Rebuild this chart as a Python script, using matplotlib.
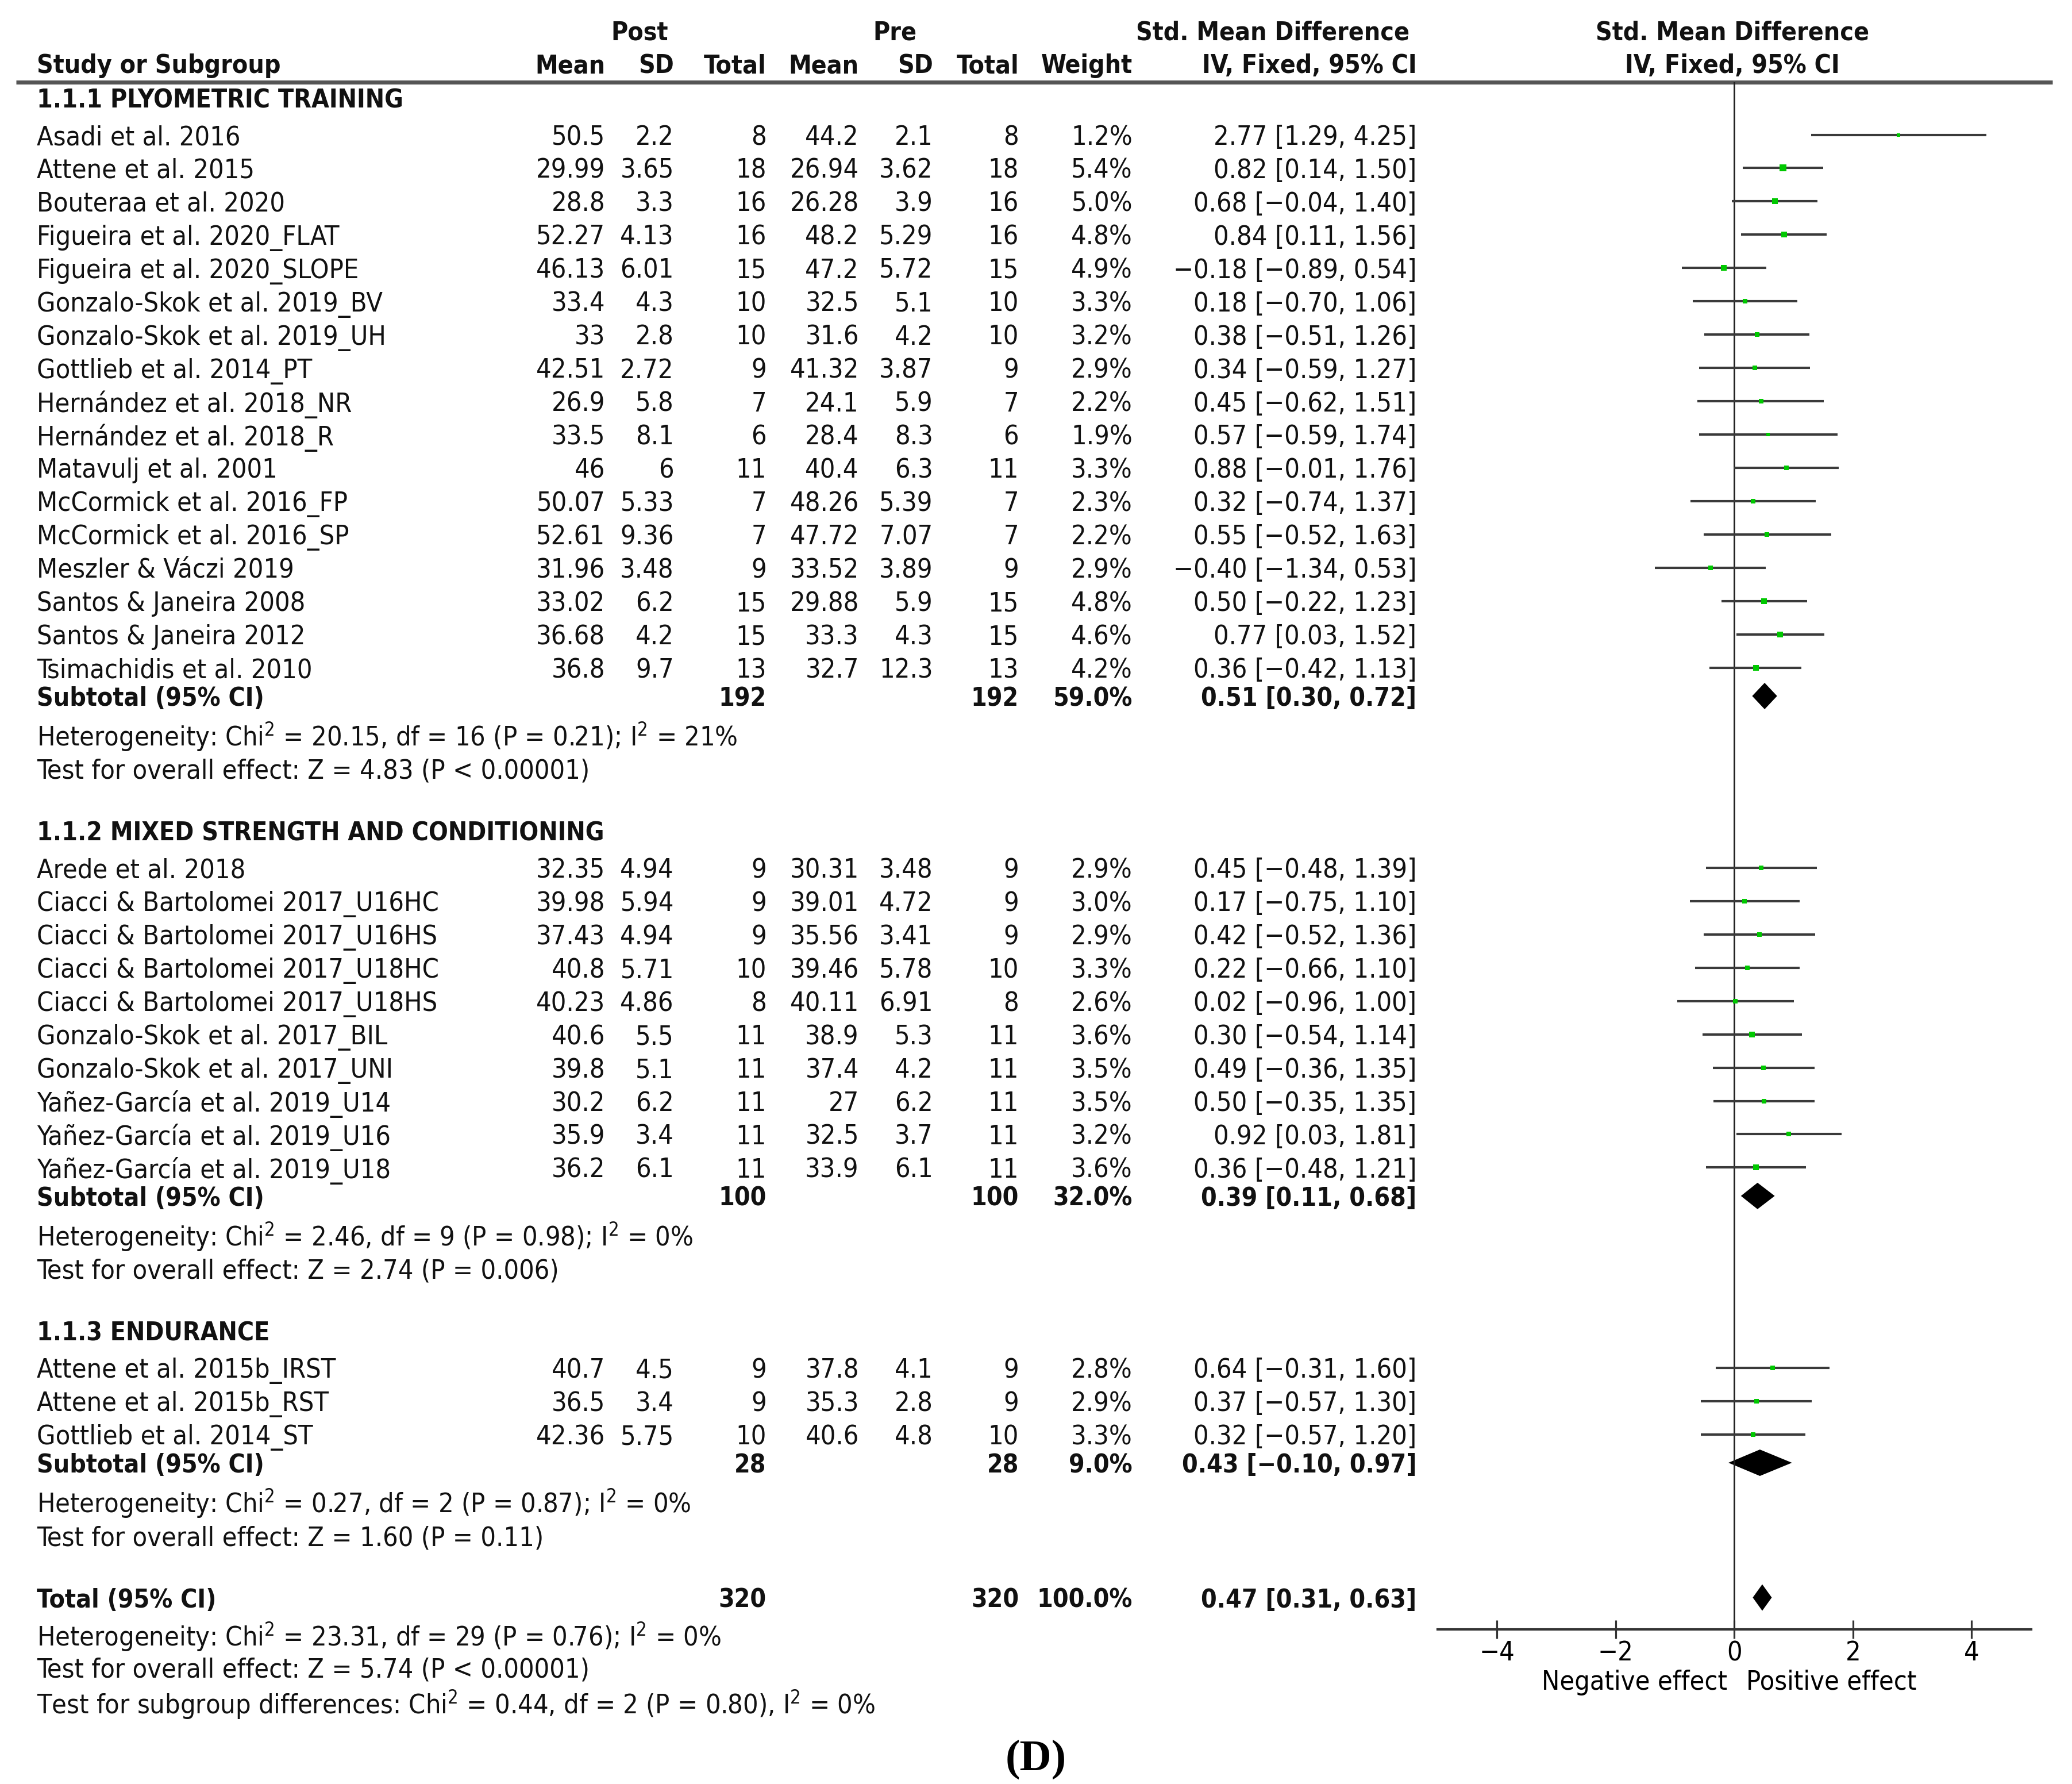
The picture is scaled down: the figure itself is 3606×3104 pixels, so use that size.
import matplotlib
matplotlib.use("Agg")
import matplotlib.pyplot as plt
import numpy as np

plt.rcParams["font.family"] = ["DejaVu Sans"]
plt.rcParams["font.stretch"] = "condensed"

# ---- data ----
groups = ["1.1.1 PLYOMETRIC TRAINING", "1.1.2 MIXED STRENGTH AND CONDITIONING", "1.1.3 ENDURANCE"]

study_names = [
    ["Asadi et al. 2016", "Attene et al. 2015", "Bouteraa et al. 2020", "Figueira et al. 2020_FLAT",
     "Figueira et al. 2020_SLOPE", "Gonzalo-Skok et al. 2019_BV", "Gonzalo-Skok et al. 2019_UH",
     "Gottlieb et al. 2014_PT", "Hernández et al. 2018_NR", "Hernández et al. 2018_R",
     "Matavulj et al. 2001", "McCormick et al. 2016_FP", "McCormick et al. 2016_SP",
     "Meszler & Váczi 2019", "Santos & Janeira 2008", "Santos & Janeira 2012", "Tsimachidis et al. 2010"],
    ["Arede et al. 2018", "Ciacci & Bartolomei 2017_U16HC", "Ciacci & Bartolomei 2017_U16HS",
     "Ciacci & Bartolomei 2017_U18HC", "Ciacci & Bartolomei 2017_U18HS", "Gonzalo-Skok et al. 2017_BIL",
     "Gonzalo-Skok et al. 2017_UNI", "Yañez-García et al. 2019_U14", "Yañez-García et al. 2019_U16",
     "Yañez-García et al. 2019_U18"],
    ["Attene et al. 2015b_IRST", "Attene et al. 2015b_RST", "Gottlieb et al. 2014_ST"],
]
post_mean = [
    ["50.5", "29.99", "28.8", "52.27", "46.13", "33.4", "33", "42.51", "26.9", "33.5", "46", "50.07", "52.61",
     "31.96", "33.02", "36.68", "36.8"],
    ["32.35", "39.98", "37.43", "40.8", "40.23", "40.6", "39.8", "30.2", "35.9", "36.2"],
    ["40.7", "36.5", "42.36"],
]
post_sd = [
    ["2.2", "3.65", "3.3", "4.13", "6.01", "4.3", "2.8", "2.72", "5.8", "8.1", "6", "5.33", "9.36",
     "3.48", "6.2", "4.2", "9.7"],
    ["4.94", "5.94", "4.94", "5.71", "4.86", "5.5", "5.1", "6.2", "3.4", "6.1"],
    ["4.5", "3.4", "5.75"],
]
post_n = [
    [8, 18, 16, 16, 15, 10, 10, 9, 7, 6, 11, 7, 7, 9, 15, 15, 13],
    [9, 9, 9, 10, 8, 11, 11, 11, 11, 11],
    [9, 9, 10],
]
pre_mean = [
    ["44.2", "26.94", "26.28", "48.2", "47.2", "32.5", "31.6", "41.32", "24.1", "28.4", "40.4", "48.26", "47.72",
     "33.52", "29.88", "33.3", "32.7"],
    ["30.31", "39.01", "35.56", "39.46", "40.11", "38.9", "37.4", "27", "32.5", "33.9"],
    ["37.8", "35.3", "40.6"],
]
pre_sd = [
    ["2.1", "3.62", "3.9", "5.29", "5.72", "5.1", "4.2", "3.87", "5.9", "8.3", "6.3", "5.39", "7.07",
     "3.89", "5.9", "4.3", "12.3"],
    ["3.48", "4.72", "3.41", "5.78", "6.91", "5.3", "4.2", "6.2", "3.7", "6.1"],
    ["4.1", "2.8", "4.8"],
]
pre_n = post_n
weight = [
    [1.2, 5.4, 5.0, 4.8, 4.9, 3.3, 3.2, 2.9, 2.2, 1.9, 3.3, 2.3, 2.2, 2.9, 4.8, 4.6, 4.2],
    [2.9, 3.0, 2.9, 3.3, 2.6, 3.6, 3.5, 3.5, 3.2, 3.6],
    [2.8, 2.9, 3.3],
]
smd = [
    [2.77, 0.82, 0.68, 0.84, -0.18, 0.18, 0.38, 0.34, 0.45, 0.57, 0.88, 0.32, 0.55, -0.40, 0.50, 0.77, 0.36],
    [0.45, 0.17, 0.42, 0.22, 0.02, 0.30, 0.49, 0.50, 0.92, 0.36],
    [0.64, 0.37, 0.32],
]
ci_low = [
    [1.29, 0.14, -0.04, 0.11, -0.89, -0.70, -0.51, -0.59, -0.62, -0.59, -0.01, -0.74, -0.52, -1.34, -0.22, 0.03, -0.42],
    [-0.48, -0.75, -0.52, -0.66, -0.96, -0.54, -0.36, -0.35, 0.03, -0.48],
    [-0.31, -0.57, -0.57],
]
ci_high = [
    [4.25, 1.50, 1.40, 1.56, 0.54, 1.06, 1.26, 1.27, 1.51, 1.74, 1.76, 1.37, 1.63, 0.53, 1.23, 1.52, 1.13],
    [1.39, 1.10, 1.36, 1.10, 1.00, 1.14, 1.35, 1.35, 1.81, 1.21],
    [1.60, 1.30, 1.20],
]

sub_n = [192, 100, 28]
sub_weight = ["59.0%", "32.0%", "9.0%"]
sub_smd = [0.51, 0.39, 0.43]
sub_low = [0.30, 0.11, -0.10]
sub_high = [0.72, 0.68, 0.97]
sub_het = [
    "Heterogeneity: Chi$^2$ = 20.15, df = 16 (P = 0.21); I$^2$ = 21%",
    "Heterogeneity: Chi$^2$ = 2.46, df = 9 (P = 0.98); I$^2$ = 0%",
    "Heterogeneity: Chi$^2$ = 0.27, df = 2 (P = 0.87); I$^2$ = 0%",
]
sub_test = [
    "Test for overall effect: Z = 4.83 (P < 0.00001)",
    "Test for overall effect: Z = 2.74 (P = 0.006)",
    "Test for overall effect: Z = 1.60 (P = 0.11)",
]

total_n = 320
total_weight = "100.0%"
total_smd, total_low, total_high = 0.47, 0.31, 0.63
total_notes = [
    "Heterogeneity: Chi$^2$ = 23.31, df = 29 (P = 0.76); I$^2$ = 0%",
    "Test for overall effect: Z = 5.74 (P < 0.00001)",
    "Test for subgroup differences: Chi$^2$ = 0.44, df = 2 (P = 0.80), I$^2$ = 0%",
]
xticks = [-4, -2, 0, 2, 4]


def fmt(v):
    return f"{v:.2f}".replace("-", "\u2212")


def ci_text(e, lo, hi):
    return f"{fmt(e)} [{fmt(lo)}, {fmt(hi)}]"


# ---- figure (coordinates in 1568x1350 reference units) ----
W, H = 1568, 1350
fig = plt.figure(figsize=(3606 / 230, 3104 / 230), dpi=230)
ax = fig.add_axes([0, 0, 1, 1])
ax.set_xlim(0, W)
ax.set_ylim(H, 0)
ax.axis("off")

FS = 14.6
FSB = 13.9
col_x = {"pm": 458, "psd": 510, "pn": 580, "qm": 650, "qsd": 706, "qn": 771, "w": 857, "ci": 1072}
LEFT = 28


def t(x, y, s, ha="left", bold=False, **kw):
    ax.text(x, y, s, ha=ha, va="center_baseline", fontsize=FSB if bold else FS,
            fontweight="bold" if bold else "normal", color="#111111", **kw)


# headers
t(484, 23, "Post", ha="center", bold=True)
t(677, 23, "Pre", ha="center", bold=True)
t(963, 23, "Std. Mean Difference", ha="center", bold=True)
t(1311, 23, "Std. Mean Difference", ha="center", bold=True)
t(LEFT, 48, "Study or Subgroup", bold=True)
for key, lab in [("pm", "Mean"), ("psd", "SD"), ("pn", "Total"), ("qm", "Mean"),
                 ("qsd", "SD"), ("qn", "Total"), ("w", "Weight"), ("ci", "IV, Fixed, 95% CI")]:
    t(col_x[key], 48, lab, ha="right", bold=True)
t(1311, 48, "IV, Fixed, 95% CI", ha="center", bold=True)
ax.plot([12, 1553], [62, 62], color="#555555", lw=2.2, solid_capstyle="butt")

# forest axes
AX_L, AX_R, AX_TOP, AX_BOT = 1088, 1537, 62, 1233
fax = fig.add_axes([AX_L / W, (H - AX_BOT) / H, (AX_R - AX_L) / W, (AX_BOT - AX_TOP) / H])
fax.set_xlim(-5, 5)
fax.set_ylim(AX_BOT, AX_TOP)
fax.patch.set_alpha(0)
for s in ["top", "left", "right"]:
    fax.spines[s].set_visible(False)
fax.spines["bottom"].set_color("#333333")
fax.spines["bottom"].set_linewidth(1.3)
fax.set_yticks([])
fax.set_xticks(xticks)
fax.tick_params(axis="x", direction="inout", length=10, width=1, color="#333333",
                labelsize=FS, pad=1)
fax.axvline(0, color="#222222", lw=0.9)
fax.text(-0.12, 1271, "Negative effect", ha="right", va="center_baseline", fontsize=FS)
fax.text(0.2, 1271, "Positive effect", ha="left", va="center_baseline", fontsize=FS)

GREEN = "#00c800"


def diamond(y, e, lo, hi):
    fax.fill([lo, e, hi, e], [y, y - 10, y, y + 10], color="black", lw=0, clip_on=False)


STEP = 25.2
y = 74
for g in range(len(groups)):
    t(LEFT, y, groups[g], bold=True)
    y += 28
    n = len(study_names[g])
    for i in range(n):
        t(LEFT, y, study_names[g][i])
        t(col_x["pm"], y, post_mean[g][i], ha="right")
        t(col_x["psd"], y, post_sd[g][i], ha="right")
        t(col_x["pn"], y, str(post_n[g][i]), ha="right")
        t(col_x["qm"], y, pre_mean[g][i], ha="right")
        t(col_x["qsd"], y, pre_sd[g][i], ha="right")
        t(col_x["qn"], y, str(pre_n[g][i]), ha="right")
        t(col_x["w"], y, f"{weight[g][i]:.1f}%", ha="right")
        t(col_x["ci"], y, ci_text(smd[g][i], ci_low[g][i], ci_high[g][i]), ha="right")
        fax.plot([ci_low[g][i], ci_high[g][i]], [y, y], color="#3a3a3a", lw=1.3,
                 solid_capstyle="butt")
        fax.plot(smd[g][i], y, marker="s", ms=1.5 * np.sqrt(weight[g][i]), color=GREEN,
                 mec=GREEN, mew=0)
        if i < n - 1:
            y += STEP
    y += 21.5
    t(LEFT, y, "Subtotal (95% CI)", bold=True)
    t(col_x["pn"], y, str(sub_n[g]), ha="right", bold=True)
    t(col_x["qn"], y, str(sub_n[g]), ha="right", bold=True)
    t(col_x["w"], y, sub_weight[g], ha="right", bold=True)
    t(col_x["ci"], y, ci_text(sub_smd[g], sub_low[g], sub_high[g]), ha="right", bold=True)
    diamond(y, sub_smd[g], sub_low[g], sub_high[g])
    y += 28
    t(LEFT, y, sub_het[g])
    y += 27
    t(LEFT, y, sub_test[g])
    y += 47

t(LEFT, y, "Total (95% CI)", bold=True)
t(col_x["pn"], y, str(total_n), ha="right", bold=True)
t(col_x["qn"], y, str(total_n), ha="right", bold=True)
t(col_x["w"], y, total_weight, ha="right", bold=True)
t(col_x["ci"], y, ci_text(total_smd, total_low, total_high), ha="right", bold=True)
diamond(y, total_smd, total_low, total_high)
y += 27
for i, line in enumerate(total_notes):
    t(LEFT, y, line)
    y += 26 if i == 0 else 25

ax.text(784, 1328, "(D)", ha="center", va="center_baseline", fontsize=24,
        fontweight="bold", family=["Liberation Serif", "DejaVu Serif"], stretch="normal")

fig.savefig("out.png", dpi=230)
